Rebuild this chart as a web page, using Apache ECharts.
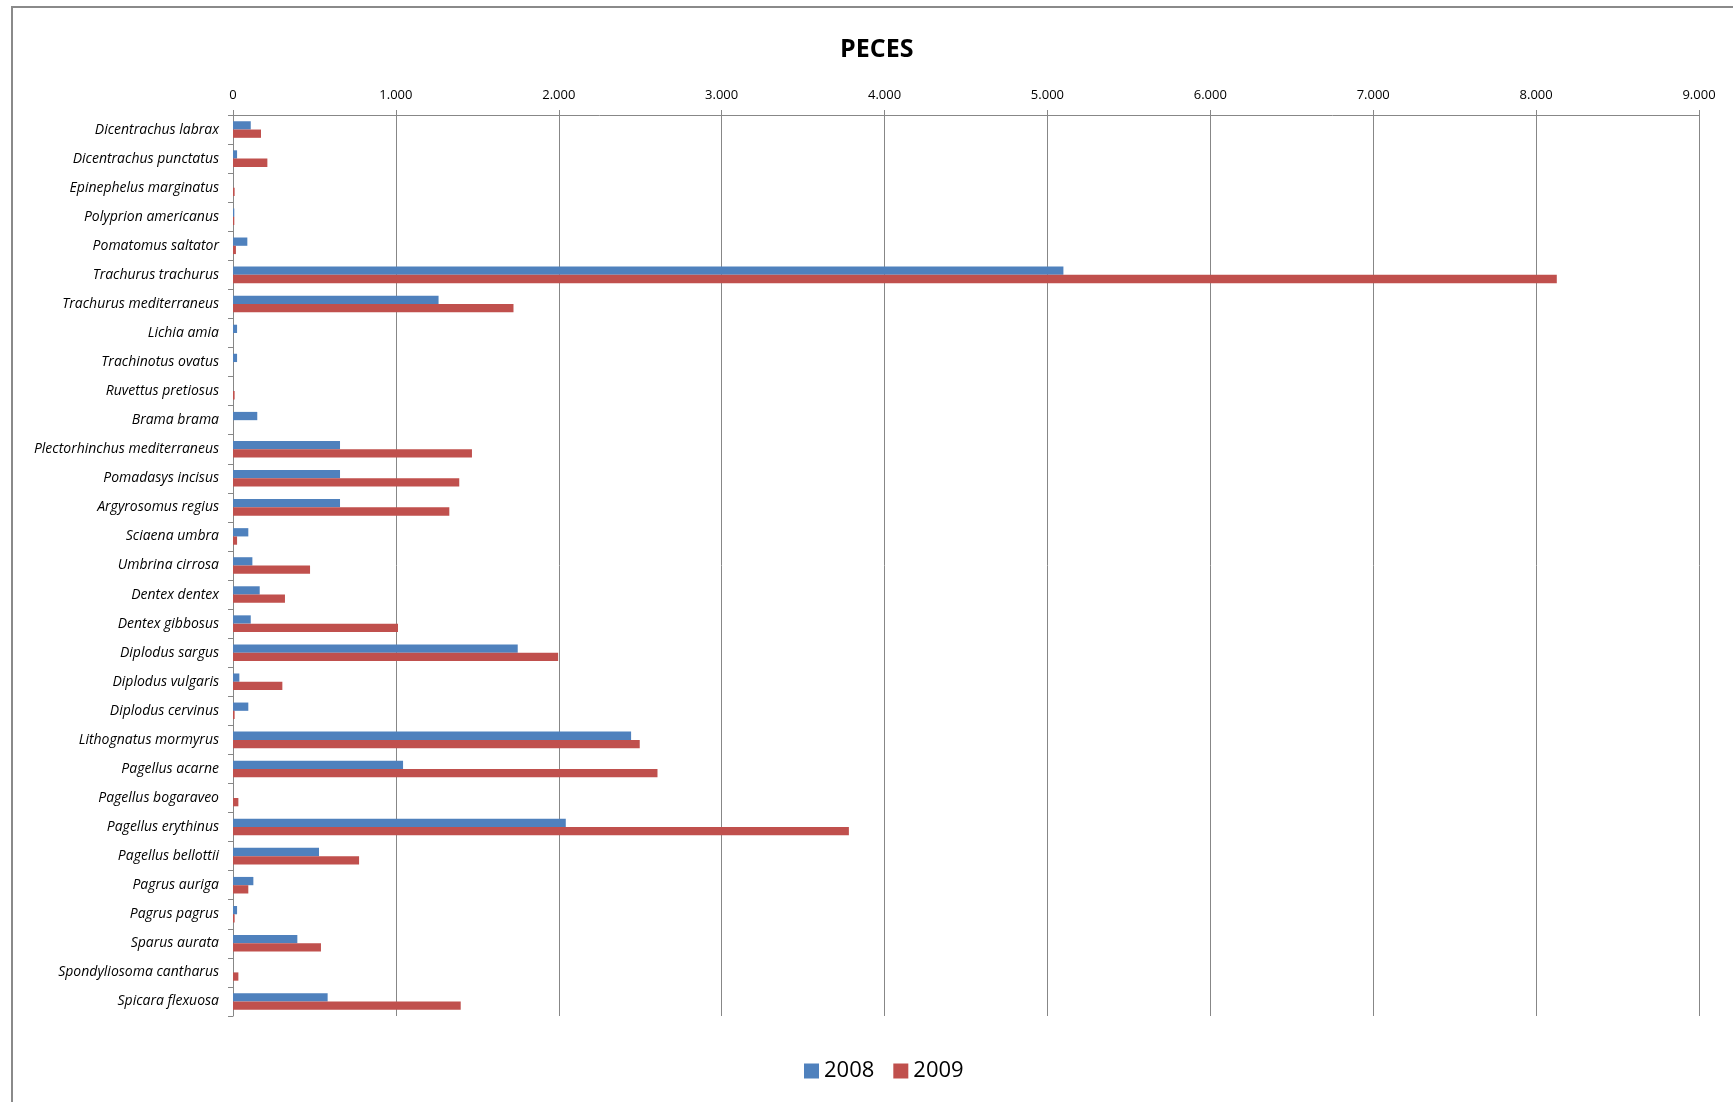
<!DOCTYPE html>
<html>
<head>
<meta charset="utf-8">
<script src="https://cdn.jsdelivr.net/npm/echarts@6/dist/echarts.min.js"></script>
<style>
html,body{margin:0;padding:0;background:#fff;}
#chart{width:1733px;height:1102px;}
</style>
</head>
<body>
<div id="chart"></div>
<script>
const categories = [
  'Dicentrachus labrax','Dicentrachus punctatus','Epinephelus marginatus','Polyprion americanus',
  'Pomatomus saltator','Trachurus trachurus','Trachurus mediterraneus','Lichia amia',
  'Trachinotus ovatus','Ruvettus pretiosus','Brama brama','Plectorhinchus mediterraneus',
  'Pomadasys incisus','Argyrosomus regius','Sciaena umbra','Umbrina cirrosa',
  'Dentex dentex','Dentex gibbosus','Diplodus sargus','Diplodus vulgaris',
  'Diplodus cervinus','Lithognatus mormyrus','Pagellus acarne','Pagellus bogaraveo',
  'Pagellus erythinus','Pagellus bellottii','Pagrus auriga','Pagrus pagrus',
  'Sparus aurata','Spondyliosoma cantharus','Spicara flexuosa'
];
const seriesNames = ['2008', '2009'];
const values2008 = [109, 25, 0, 8, 88, 5098, 1262, 25, 25, 0, 149, 657, 657, 657, 94, 119, 164, 109, 1748, 39, 94, 2444, 1044, 0, 2043, 528, 125, 25, 395, 0, 581];
const values2009 = [172, 211, 10, 8, 18, 8127, 1722, 0, 0, 10, 0, 1467, 1389, 1328, 25, 473, 319, 1013, 1996, 303, 10, 2497, 2606, 33, 3781, 774, 94, 10, 540, 33, 1398];
const axisMin = 0, axisMax = 9000, axisStep = 1000;

const chart = echarts.init(document.getElementById('chart'), null, {renderer: 'canvas'});
const gridColor = '#878787';
chart.setOption({
  backgroundColor: '#ffffff',
  animation: false,
  title: {
    text: 'PECES',
    left: 835, top: 32,
    textStyle: {fontFamily: 'Open Sans', fontWeight: 'bold', fontSize: 25, color: '#000'}
  },
  graphic: [{
    type: 'rect', silent: true, z: -1,
    shape: {x: 12, y: 7, width: 1760, height: 1140},
    style: {fill: 'none', stroke: '#8a8a8a', lineWidth: 2}
  }],
  legend: {
    data: seriesNames,
    left: 799, top: 1055,
    icon: 'rect', itemWidth: 15, itemHeight: 15, itemGap: 19,
    textStyle: {fontFamily: 'Open Sans', fontSize: 22, color: '#000'}
  },
  grid: {left: 233, right: 34, top: 115, bottom: 86, containLabel: false},
  xAxis: {
    type: 'value', position: 'top',
    min: axisMin, max: axisMax, interval: axisStep,
    axisLine: {show: true, lineStyle: {color: gridColor, width: 1}},
    axisTick: {show: true, length: 5, lineStyle: {color: gridColor}},
    splitLine: {show: true, lineStyle: {color: gridColor, width: 1}},
    axisLabel: {
      margin: 13, fontFamily: 'Open Sans', fontSize: 13, color: '#000',
      formatter: v => String(v).replace(/\B(?=(\d{3})+(?!\d))/g, '.')
    }
  },
  yAxis: {
    type: 'category', inverse: true, data: categories,
    axisLine: {show: true, lineStyle: {color: gridColor, width: 1}},
    axisTick: {show: true, length: 5, lineStyle: {color: gridColor}},
    splitLine: {show: false},
    axisLabel: {margin: 14, fontFamily: 'Open Sans', fontStyle: 'italic', fontSize: 14, color: '#000', interval: 0}
  },
  series: [
    {name: seriesNames[0], type: 'bar', data: values2008, barGap: '0%', barCategoryGap: '43%',
     itemStyle: {color: '#4F81BD'}},
    {name: seriesNames[1], type: 'bar', data: values2009, barGap: '0%', barCategoryGap: '43%',
     itemStyle: {color: '#C0504D'}}
  ]
});
</script>
</body>
</html>
